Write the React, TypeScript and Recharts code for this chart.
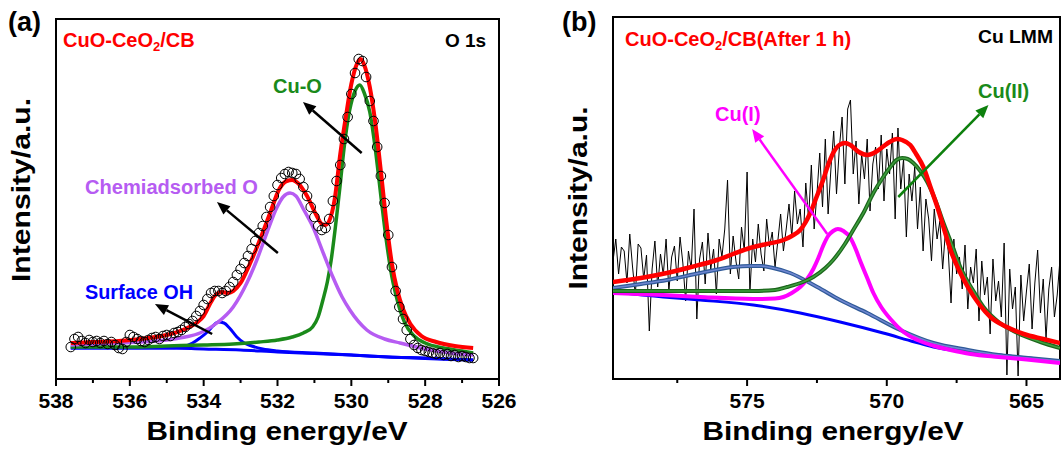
import React from 'react';
import { LineChart, Line, XAxis, YAxis, ReferenceArea, ReferenceLine } from 'recharts';

type Pt = [number, number];

const FONT = '"Liberation Sans", Arial, Helvetica, sans-serif';

// ---- (a) O 1s ----
const o1sStart = 537.6;
const o1sStep = 0.1;
const o1sRaw = [
  32, 40, 42, 38, 36, 39, 37, 38, 36, 38,
  35, 37, 34, 31, 30, 37, 44, 42, 40, 38,
  37, 39, 41, 42, 40, 43, 44, 43, 46, 47,
  49, 52, 55, 58, 63, 68, 74, 80, 86, 88,
  88, 86, 88, 92, 97, 104, 110, 116, 123, 130,
  138, 146, 153, 162, 172, 183, 194, 201, 205, 207,
  206, 205, 200, 192, 183, 172, 162, 153, 149, 151,
  160, 178, 198, 214, 240, 262, 285, 306, 320, 318,
  302, 278, 258, 232, 203, 176, 144, 112, 88, 72,
  60, 49, 40, 34, 31, 29, 28, 27, 26, 25,
  26, 24, 25, 23, 24, 22, 23, 22, 21, 21,
];
const o1sEnvelope: Pt[] = [
  [537.6, 36], [537, 37], [536.3, 38], [535.5, 41], [535, 44], [534.5, 50], [534.2, 56], [534, 63],
  [533.8, 77], [533.65, 85], [533.5, 87], [533.35, 86], [533.2, 88], [533, 96], [532.75, 115],
  [532.5, 137], [532.2, 166], [531.95, 190], [531.75, 198], [531.6, 199], [531.45, 196], [531.2, 183],
  [530.95, 164], [530.8, 155], [530.7, 154], [530.6, 158], [530.45, 180], [530.3, 225], [530.15, 262],
  [530, 295], [529.85, 315], [529.75, 320], [529.65, 314], [529.5, 292], [529.35, 256], [529.2, 208],
  [529.05, 157], [528.9, 115], [528.75, 88], [528.6, 70], [528.4, 55], [528.1, 43], [527.7, 37],
  [527.2, 33], [526.7, 31],
];
const o1sCuO: Pt[] = [
  [537.6, 32], [536, 32], [535, 33], [534, 34], [533.2, 35], [532.5, 37], [532, 39], [531.6, 42],
  [531.3, 46], [531.05, 52], [530.9, 62], [530.77, 79], [530.65, 97], [530.55, 118], [530.4, 162],
  [530.3, 195], [530.2, 230], [530.05, 268], [529.9, 288], [529.77, 294], [529.65, 286], [529.5, 267],
  [529.35, 230], [529.2, 183], [529.05, 138], [528.9, 102], [528.75, 78], [528.55, 56], [528.3, 43],
  [528, 36], [527.5, 31], [527, 28], [526.7, 26],
];
const o1sChem: Pt[] = [
  [537.6, 34], [536.35, 36], [535, 39], [534.5, 42], [534.1, 46], [533.64, 56], [533.2, 72],
  [532.83, 96], [532.56, 119], [532.29, 146], [532.01, 172], [531.85, 182], [531.66, 186],
  [531.5, 183], [531.3, 170], [531.04, 152], [530.75, 125], [530.5, 102], [530.25, 82], [530.04, 69],
  [529.58, 49], [529.1, 40], [528.68, 36], [528, 30], [527.3, 26], [526.7, 24],
];
const o1sOH: Pt[] = [
  [537.6, 31], [536, 31], [535, 31], [534.6, 32], [534.3, 36], [534.1, 41], [533.9, 47], [533.75, 53],
  [533.6, 57], [533.45, 56], [533.3, 51], [533.1, 42], [532.9, 36], [532.7, 33], [532.4, 30],
  [532, 28], [531, 26], [530, 24], [529, 22], [528, 21], [526.7, 19],
];
const o1sBg: Pt[] = [
  [537.6, 31], [535, 31], [534, 30], [533, 29], [532, 27], [531, 25.5], [530, 24], [529, 22],
  [528, 20.5], [527.3, 19.5], [526.7, 19],
];
const o1sTicks = [538, 537, 536, 535, 534, 533, 532, 531, 530, 529, 528, 527, 526];
const o1sLabels = [538, 536, 534, 532, 530, 528, 526];

// ---- (b) Cu LMM ----
const lmmStart = 579.8;
const lmmStep = 0.1;
const lmmRaw = [
  118, 140, 105, 132, 128, 96, 145, 112, 84, 135,
  131, 100, 124, 48, 110, 138, 92, 125, 104, 140,
  88, 122, 133, 98, 142, 116, 78, 128, 110, 170,
  60, 120, 137, 95, 146, 110, 130, 85, 140, 122,
  150, 199, 105, 143, 118, 100, 152, 128, 207, 86,
  140, 117, 155, 125, 108, 160, 132, 147, 112, 138,
  165, 128, 150, 175, 142, 188, 155, 170, 132, 196,
  160, 214, 150, 185, 226, 172, 240, 165, 210, 248,
  185, 230, 262, 195, 270, 279, 205, 238, 175, 225,
  200, 240, 168, 215, 232, 190, 244, 178, 230, 205,
  246, 160, 251, 190, 220, 142, 205, 178, 212, 150,
  192, 128, 180, 160, 118, 170, 140, 158, 110, 148,
  128, 76, 140, 105, 122, 90, 134, 70, 112, 96,
  130, 58, 118, 84, 102, 45, 120, 78, 98, 62,
  136, 4, 110, 70, 92, 3, 104, 58, 88, 115,
  50, 96, 129, 66, 100, 40, 90, 112, 62, 84,
  120,
];
const lmmEnvelope: Pt[] = [
  [579.8, 97], [578.8, 101], [577.87, 106], [577, 112], [576.08, 119], [575.5, 125], [574.9, 131],
  [574.3, 135], [573.7, 139], [573.4, 143], [573.1, 149], [572.9, 157], [572.74, 166], [572.5, 183],
  [572.28, 199], [572.1, 214], [571.92, 226], [571.7, 234], [571.49, 236], [571.3, 234], [571, 227],
  [570.7, 224], [570.4, 227], [570.15, 232], [569.9, 237], [569.65, 240], [569.45, 239], [569.16, 234],
  [568.95, 225], [568.69, 212], [568.45, 193], [568.19, 172], [567.95, 150], [567.72, 129],
  [567.4, 108], [567.1, 92], [566.7, 75], [566.29, 62], [565.7, 52], [565.1, 45], [564.4, 40],
  [563.8, 36],
];
const lmmCu2: Pt[] = [
  [579.8, 88], [577, 88], [574.78, 88], [574, 89], [573.57, 92], [573, 97], [572.63, 102], [572.2, 111],
  [571.92, 119], [571.5, 135], [571.2, 149], [570.8, 168], [570.48, 186], [570.15, 201], [569.87, 212],
  [569.65, 219], [569.45, 221], [569.25, 220], [569.05, 216], [568.8, 208], [568.55, 197],
  [568.25, 178], [567.97, 156], [567.65, 133], [567.37, 112], [566.9, 88], [566.54, 72], [566, 57],
  [565.32, 46], [564.5, 37], [563.8, 31],
];
const lmmCu1: Pt[] = [
  [579.8, 86], [578, 84], [576.68, 82], [574.78, 80], [574, 80.5], [573.7, 82], [573.4, 86], [573.1, 92],
  [572.85, 100], [572.63, 110], [572.45, 121], [572.28, 133], [572.1, 143], [571.92, 148],
  [571.75, 150], [571.55, 148], [571.3, 141], [571.1, 129], [570.95, 118], [570.7, 101], [570.48, 86],
  [570.2, 72], [569.87, 60], [569.4, 47], [568.9, 39], [568.3, 33], [567.72, 29], [567, 25], [566, 22],
  [565, 19.5], [563.8, 16],
];
const lmmSat: Pt[] = [
  [579.8, 91], [578.8, 95], [577.87, 99], [576.68, 106], [575.5, 112], [574.9, 113], [574.5, 113],
  [574.07, 111], [573.46, 106], [572.49, 92], [571.67, 79], [570.7, 66], [569.52, 49], [568.33, 36],
  [567.1, 29], [566, 24], [565.32, 22], [563.8, 18],
];
const lmmBg: Pt[] = [
  [579.8, 87], [578, 82], [576.68, 79], [574.78, 74], [573.1, 66], [571.67, 57], [570.13, 46], [569, 37],
  [568.33, 32], [567.1, 27], [566, 24], [565.32, 22], [564.5, 19.5], [563.8, 17],
];
const lmmTicks = [577.5, 575, 572.5, 570, 567.5, 565];
const lmmLabels = [575, 570, 565];

const toRows = (pts: Pt[]) => pts.map(([x, y]) => ({ x, y }));
const scanRows = (start: number, step: number, vals: number[]) =>
  vals.map((y, i) => ({ x: +(start - i * step).toFixed(2), y }));

const makeTick = (labels: number[]) => (props: any) => {
  const { x, y, payload } = props;
  const major = labels.includes(payload.value);
  return (
    <g>
      <line x1={x} x2={x} y1={y} y2={y + (major ? 7 : 4)} stroke="#000" strokeWidth={2} />
      {major && (
        <text x={x} y={y + 29} textAnchor="middle" fontSize={21} fontWeight="bold" fontFamily={FONT} fill="#000">
          {payload.value}
        </text>
      )}
    </g>
  );
};

const arrow = (color: string) => (props: any) => {
  const { x1, y1, x2, y2 } = props;
  const dx = x2 - x1;
  const dy = y2 - y1;
  const len = Math.sqrt(dx * dx + dy * dy) || 1;
  const ux = dx / len;
  const uy = dy / len;
  const hl = 13;
  const hw = 5.5;
  const bx = x2 - ux * hl;
  const by = y2 - uy * hl;
  return (
    <g>
      <line x1={x1} y1={y1} x2={bx} y2={by} stroke={color} strokeWidth={2.5} />
      <polygon
        points={`${x2},${y2} ${bx - uy * hw},${by + ux * hw} ${bx + uy * hw},${by - ux * hw}`}
        fill={color}
      />
    </g>
  );
};

const fit = (pts: Pt[], color: string, width: number, key: string) => (
  <Line
    key={key}
    data={toRows(pts)}
    dataKey="y"
    type="monotone"
    stroke={color}
    strokeWidth={width}
    dot={false}
    activeDot={false}
    isAnimationActive={false}
  />
);

const bold = { fontFamily: FONT, fontWeight: 'bold' as const };

export default function App() {
  return (
    <div style={{ position: 'absolute', left: 0, top: 0, width: 1062, height: 450, background: '#fff' }}>
      <div style={{ position: 'absolute', left: 0, top: 0 }}>
        <LineChart width={530} height={450} margin={{ top: 19, right: 31, bottom: 0, left: 56 }}>
          <XAxis
            dataKey="x"
            type="number"
            domain={[526, 538]}
            reversed
            ticks={o1sTicks}
            interval={0}
            height={71}
            tickSize={0}
            tickMargin={0}
            tickLine={false}
            axisLine={false}
            tick={makeTick(o1sLabels)}
            allowDataOverflow
          />
          <YAxis type="number" domain={[0, 360]} hide allowDataOverflow />
          <ReferenceArea x1={526} x2={538} y1={0} y2={360} fill="none" stroke="#000" strokeWidth={2} ifOverflow="visible" />
          <Line
            data={scanRows(o1sStart, o1sStep, o1sRaw)}
            dataKey="y"
            stroke="none"
            dot={{ r: 4.8, stroke: '#000', strokeWidth: 1, fill: 'none' }}
            activeDot={false}
            isAnimationActive={false}
          />
          {fit(o1sBg, '#0000ff', 3, 'bg')}
          {fit(o1sOH, '#0000ff', 3, 'oh')}
          {fit(o1sCuO, '#1a8a1a', 3.5, 'cuo')}
          {fit(o1sChem, '#b65cf2', 3.5, 'chem')}
          {fit(o1sEnvelope, '#ff0000', 4, 'env')}
          <ReferenceLine segment={[{ x: 529.72, y: 226 }, { x: 531.31, y: 277 }]} shape={arrow('#000')} />
          <ReferenceLine segment={[{ x: 531.99, y: 126 }, { x: 533.64, y: 177 }]} shape={arrow('#000')} />
          <ReferenceLine segment={[{ x: 533.77, y: 45 }, { x: 535.32, y: 75 }]} shape={arrow('#000')} />
        </LineChart>
      </div>
      <div style={{ position: 'absolute', left: 530, top: 0 }}>
        <LineChart width={532} height={450} margin={{ top: 17, right: 2, bottom: 0, left: 83 }}>
          <XAxis
            dataKey="x"
            type="number"
            domain={[563.8, 579.8]}
            reversed
            ticks={lmmTicks}
            interval={0}
            height={71}
            tickSize={0}
            tickMargin={0}
            tickLine={false}
            axisLine={false}
            tick={makeTick(lmmLabels)}
            allowDataOverflow
          />
          <YAxis type="number" domain={[0, 362]} hide allowDataOverflow />
          <ReferenceArea x1={563.8} x2={579.8} y1={0} y2={362} fill="none" stroke="#000" strokeWidth={2} ifOverflow="visible" />
          <Line
            data={scanRows(lmmStart, lmmStep, lmmRaw)}
            dataKey="y"
            type="linear"
            stroke="#000"
            strokeWidth={1}
            dot={false}
            activeDot={false}
            isAnimationActive={false}
          />
          {fit(lmmBg, '#0000ff', 3, 'bg')}
          {fit(lmmSat, '#2f5a98', 4, 'sat')}
          {fit(lmmSat, '#6f86d0', 1.5, 'sat2')}
          {fit(lmmCu1, '#ff00ff', 4, 'cu1')}
          {fit(lmmCu2, '#1b661b', 4, 'cu2')}
          {fit(lmmCu2, '#3f9f3f', 1.5, 'cu2b')}
          {fit(lmmEnvelope, '#ff0000', 4.5, 'env')}
          <ReferenceLine segment={[{ x: 572.13, y: 145 }, { x: 574.82, y: 250 }]} shape={arrow('#ff00ff')} />
          <ReferenceLine segment={[{ x: 569.59, y: 182 }, { x: 566.36, y: 274 }]} shape={arrow('#0d800d')} />
        </LineChart>
      </div>
      <svg width={1062} height={450} style={{ position: 'absolute', left: 0, top: 0, pointerEvents: 'none' }}>
        <text x={8} y={31} fontSize={27} {...bold}>(a)</text>
        <text x={63} y={47} fontSize={20} fill="#ff0000" {...bold}>
          CuO-CeO<tspan fontSize={13} dy={4}>2</tspan><tspan dy={-4}>/CB</tspan>
        </text>
        <text x={445} y={47} fontSize={19} {...bold}>O 1s</text>
        <text x={273} y={93} fontSize={20} fill="#1a8a1a" {...bold}>Cu-O</text>
        <text x={85} y={194} fontSize={20} fill="#b65cf2" textLength={173} lengthAdjust="spacingAndGlyphs" {...bold}>Chemiadsorbed O</text>
        <text x={85} y={299} fontSize={20} fill="#0000ff" textLength={108} lengthAdjust="spacingAndGlyphs" {...bold}>Surface OH</text>
        <text x={277} y={440} fontSize={26} textAnchor="middle" textLength={261} lengthAdjust="spacingAndGlyphs" {...bold}>Binding energy/eV</text>
        <text x={30} y={190} fontSize={26} textAnchor="middle" textLength={184} lengthAdjust="spacingAndGlyphs" transform="rotate(-90 30 190)" {...bold}>Intensity/a.u.</text>

        <text x={562} y={31} fontSize={27} {...bold}>(b)</text>
        <text x={625} y={46} fontSize={20} fill="#ff0000" {...bold}>
          CuO-CeO<tspan fontSize={13} dy={4}>2</tspan><tspan dy={-4}>/CB(After 1 h)</tspan>
        </text>
        <text x={978} y={43} fontSize={19} textLength={75} lengthAdjust="spacingAndGlyphs" {...bold}>Cu LMM</text>
        <text x={715} y={121} fontSize={20} fill="#ff00ff" {...bold}>Cu(I)</text>
        <text x={978} y={98} fontSize={20} fill="#1a8a1a" {...bold}>Cu(II)</text>
        <text x={833} y={440} fontSize={26} textAnchor="middle" textLength={261} lengthAdjust="spacingAndGlyphs" {...bold}>Binding energy/eV</text>
        <text x={587} y={198} fontSize={26} textAnchor="middle" textLength={183} lengthAdjust="spacingAndGlyphs" transform="rotate(-90 587 198)" {...bold}>Intensity/a.u.</text>
      </svg>
    </div>
  );
}
